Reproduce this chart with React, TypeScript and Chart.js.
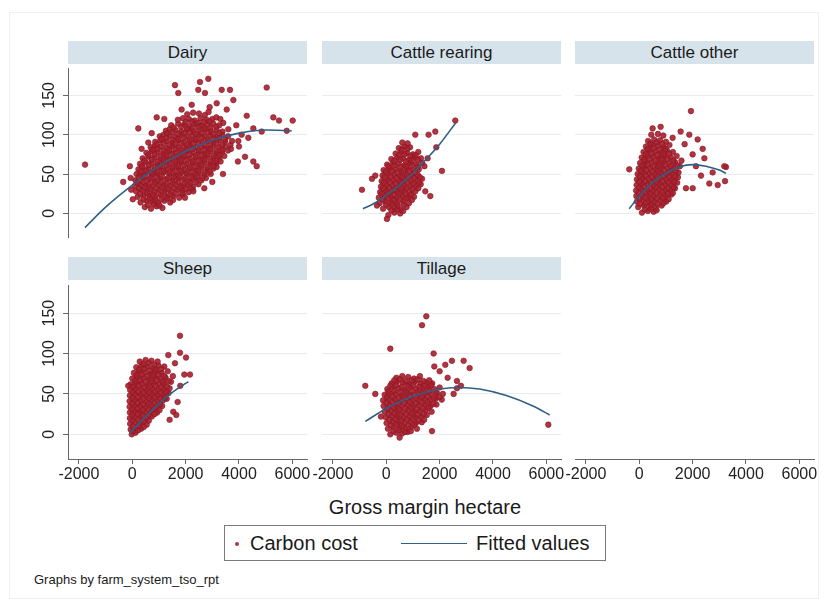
import React, { useEffect, useRef } from 'react';
import { Chart, registerables } from 'chart.js';

Chart.register(...registerables);

// ---------- data ----------
const xTicks = [-2000, 0, 2000, 4000, 6000];
const yTicks = [0, 50, 100, 150];
const xRange = [-2410, 6550];
const yRange = [-30.5, 184];

const panelTitles = ['Dairy', 'Cattle rearing', 'Cattle other', 'Sheep', 'Tillage'];
const legendLabels = ['Carbon cost', 'Fitted values'];
const xAxisTitle = 'Gross margin hectare';
const noteText = 'Graphs by farm_system_tso_rpt';

const dairyPoints: [number, number][] = [
  [470, 8], [700, 6], [910, 9], [1130, 7],
  [310, 14], [540, 16], [760, 15], [970, 13], [1200, 16], [1420, 14],
  [200, 21], [430, 23], [650, 22], [860, 20], [1090, 23], [1310, 21], [1530, 22], [1760, 20], [1900, 24],
  [140, 28], [360, 30], [570, 29], [800, 27], [1010, 30], [1230, 29], [1450, 28], [1680, 30], [1890, 29], [2110, 27], [2260, 31],
  [100, 35], [300, 37], [520, 36], [740, 34], [960, 37], [1180, 36], [1400, 35], [1610, 37], [1830, 35], [2050, 36], [2270, 34], [2480, 37],
  [120, 42], [400, 44], [620, 43], [840, 41], [1060, 44], [1280, 43], [1500, 42], [1720, 44], [1940, 43], [2160, 41], [2380, 44], [2590, 42], [2760, 45],
  [160, 50], [290, 49], [510, 51], [730, 49], [950, 50], [1170, 52], [1390, 50], [1610, 49], [1830, 51], [2050, 50], [2270, 48], [2490, 51], [2710, 49], [2940, 50],
  [230, 56], [400, 58], [620, 57], [840, 55], [1060, 58], [1280, 56], [1500, 57], [1720, 58], [1940, 56], [2160, 57], [2380, 55], [2600, 58], [2820, 56], [3040, 57], [3160, 59],
  [290, 63], [510, 65], [730, 64], [950, 62], [1170, 65], [1390, 63], [1610, 64], [1830, 65], [2050, 63], [2270, 64], [2490, 62], [2710, 65], [2930, 63], [3150, 64], [3310, 66],
  [390, 70], [620, 72], [840, 71], [1060, 69], [1280, 72], [1500, 70], [1720, 71], [1940, 72], [2160, 70], [2380, 71], [2600, 69], [2820, 72], [3040, 70], [3260, 71], [3450, 73],
  [530, 77], [730, 79], [950, 78], [1170, 76], [1390, 79], [1610, 77], [1830, 78], [2050, 79], [2270, 77], [2490, 78], [2710, 76], [2930, 79], [3150, 77], [3370, 78], [3590, 80],
  [690, 84], [840, 86], [1060, 85], [1280, 83], [1500, 86], [1720, 84], [1940, 85], [2160, 86], [2380, 84], [2600, 85], [2820, 83], [3040, 86], [3260, 84], [3480, 85], [3680, 87],
  [860, 91], [1060, 93], [1280, 92], [1500, 90], [1720, 93], [1940, 91], [2160, 92], [2380, 93], [2600, 91], [2820, 92], [3040, 90], [3260, 93], [3480, 91], [3740, 92],
  [1030, 98], [1170, 100], [1390, 99], [1610, 97], [1830, 100], [2050, 98], [2270, 99], [2490, 100], [2710, 98], [2930, 99], [3150, 97], [3370, 100], [3590, 98],
  [1260, 105], [1400, 107], [1620, 106], [1840, 104], [2060, 107], [2280, 105], [2500, 106], [2720, 107], [2940, 105], [3160, 106], [3380, 104], [3600, 107],
  [1460, 112], [1720, 114], [1940, 113], [2160, 111], [2380, 114], [2600, 112], [2820, 113], [3040, 114], [3260, 112], [3410, 115],
  [1710, 119], [1900, 121], [2120, 120], [2340, 118], [2560, 121], [2780, 119], [3000, 120], [3150, 122],
  [2060, 126], [2280, 128], [2500, 127], [2720, 125], [2860, 129],
  // dense core, in-between rows
  [580, 11], [800, 12], [1020, 10],
  [420, 18], [650, 19], [870, 17], [1090, 18], [1310, 19], [1530, 17],
  [300, 25], [540, 26], [760, 24], [980, 25], [1200, 26], [1420, 24], [1640, 25], [1860, 26],
  [250, 32], [470, 33], [690, 31], [910, 32], [1130, 33], [1350, 31], [1570, 32], [1790, 33], [2010, 31], [2200, 32],
  [200, 39], [410, 40], [630, 38], [850, 39], [1070, 40], [1290, 38], [1510, 39], [1730, 40], [1950, 38], [2170, 39], [2390, 40],
  [240, 46], [450, 47], [670, 45], [890, 46], [1110, 47], [1330, 45], [1550, 46], [1770, 47], [1990, 45], [2210, 46], [2430, 47], [2620, 45],
  [300, 53], [510, 54], [730, 52], [950, 53], [1170, 54], [1390, 52], [1610, 53], [1830, 54], [2050, 52], [2270, 53], [2490, 54], [2710, 52], [2900, 53],
  [360, 60], [620, 61], [840, 59], [1060, 60], [1280, 61], [1500, 59], [1720, 60], [1940, 61], [2160, 59], [2380, 60], [2600, 61], [2820, 59], [3040, 60],
  [450, 67], [730, 68], [950, 66], [1170, 67], [1390, 68], [1610, 66], [1830, 67], [2050, 68], [2270, 66], [2490, 67], [2710, 68], [2930, 66], [3150, 67],
  [600, 74], [840, 75], [1060, 73], [1280, 74], [1500, 75], [1720, 73], [1940, 74], [2160, 75], [2380, 73], [2600, 74], [2820, 75], [3040, 73], [3260, 74],
  [760, 81], [950, 82], [1170, 80], [1390, 81], [1610, 82], [1830, 80], [2050, 81], [2270, 82], [2490, 80], [2710, 81], [2930, 82], [3150, 80], [3370, 81],
  [920, 88], [1170, 89], [1390, 87], [1610, 88], [1830, 89], [2050, 87], [2270, 88], [2490, 89], [2710, 87], [2930, 88], [3150, 89], [3370, 87],
  [1100, 95], [1280, 96], [1500, 94], [1720, 95], [1940, 96], [2160, 94], [2380, 95], [2600, 96], [2820, 94], [3040, 95], [3260, 96], [3480, 94],
  [1300, 102], [1500, 103], [1720, 101], [1940, 102], [2160, 103], [2380, 101], [2600, 102], [2820, 103], [3040, 101], [3260, 102],
  [1550, 109], [1830, 110], [2050, 108], [2270, 109], [2490, 110], [2710, 108], [2930, 109], [3150, 110],
  [2000, 116], [2230, 117], [2450, 115], [2670, 116], [2890, 117],
  // scattered points
  [-1770, 62], [-340, 40], [-90, 60], [-40, 30], [-60, 45], [20, 18], [225, 108], [727, 102], [1601, 163], [1725, 153],
  [2850, 171], [2475, 157], [2726, 153], [3352, 157], [3664, 157], [5040, 160], [5287, 122], [5500, 118], [6014, 118], [5790, 105],
  [4852, 104], [4665, 60], [4350, 96], [4290, 124], [4538, 66], [3790, 144], [3165, 140], [2288, 28], [1976, 20], [915, 122],
  [4226, 72], [3960, 66], [3975, 92], [4538, 108], [3540, 132], [2227, 138], [1850, 132], [2538, 167], [3300, 120], [3900, 112],
  [4100, 100], [3700, 82], [3400, 50], [3000, 40], [2700, 32], [4000, 85], [2900, 135], [600, 90], [350, 82], [1200, 120],
];
const dairyFit: [number, number][] = [
  [-1774, -18], [-1000, 8], [0, 36], [1000, 60], [2000, 79], [3000, 93], [4000, 102], [5000, 106], [5977, 105],
];

const rearingPoints: [number, number][] = [
  [80, -2], [300, 1], [520, 0],
  [-120, 6], [100, 8], [320, 7], [540, 5], [760, 8],
  [-250, 13], [-30, 15], [190, 14], [410, 12], [630, 15], [850, 13],
  [-280, 20], [-60, 22], [160, 21], [380, 19], [600, 22], [820, 20], [1040, 21],
  [-230, 27], [-10, 29], [210, 28], [430, 26], [650, 29], [870, 27], [1090, 28],
  [-200, 34], [20, 36], [240, 35], [460, 33], [680, 36], [900, 34], [1120, 35], [1290, 37],
  [-170, 41], [50, 43], [270, 42], [490, 40], [710, 43], [930, 41], [1150, 42], [1340, 44],
  [-140, 48], [80, 50], [300, 49], [520, 47], [740, 50], [960, 48], [1180, 49],
  [-100, 55], [120, 57], [340, 56], [560, 54], [780, 57], [1000, 55], [1220, 56],
  [30, 62], [250, 64], [470, 63], [690, 61], [910, 64], [1130, 62], [1350, 64],
  [190, 69], [410, 71], [630, 70], [850, 68], [1070, 71], [1300, 70],
  [350, 76], [560, 78], [780, 77], [1000, 75], [1200, 78],
  [470, 83], [680, 85], [890, 84], [600, 90], [800, 89],
  [190, 4], [410, 5], [630, 3],
  [-10, 11], [210, 12], [430, 10], [650, 11],
  [-140, 18], [80, 19], [300, 17], [520, 18], [740, 19], [960, 17],
  [-170, 25], [50, 26], [270, 24], [490, 25], [710, 26], [930, 24],
  [-120, 32], [100, 33], [320, 31], [540, 32], [760, 33], [980, 31], [1200, 32],
  [-90, 39], [130, 40], [350, 38], [570, 39], [790, 40], [1010, 38], [1230, 39],
  [-60, 46], [160, 47], [380, 45], [600, 46], [820, 47], [1040, 45], [1260, 46],
  [-20, 53], [200, 54], [420, 52], [640, 53], [860, 54], [1080, 52],
  [80, 60], [300, 61], [520, 59], [740, 60], [960, 61], [1180, 59],
  [300, 67], [520, 68], [740, 66], [960, 67], [1180, 68],
  [460, 74], [680, 75], [900, 73], [1100, 74],
  [580, 81], [790, 82],
  [-911, 30], [-536, 44], [-412, 48], [1087, 100], [1586, 100], [1837, 104], [1875, 84], [2087, 54], [1462, 28], [1650, 22],
  [2587, 118], [25, -7], [1430, 60], [1550, 70], [-350, 10],
];
const rearingFit: [number, number][] = [
  [-874, 6], [-500, 12], [0, 23], [500, 36], [1000, 51], [1500, 69], [2000, 88], [2600, 115],
];

const otherPoints: [number, number][] = [
  [100, 1], [320, 3], [540, 2],
  [-40, 8], [180, 10], [400, 9], [620, 7], [840, 10],
  [-90, 15], [130, 17], [350, 16], [570, 14], [790, 17], [1010, 15],
  [-110, 22], [110, 24], [330, 23], [550, 21], [770, 24], [990, 22], [1200, 24],
  [-120, 29], [80, 31], [300, 30], [520, 28], [740, 31], [960, 29], [1180, 30], [1340, 32],
  [-100, 36], [100, 38], [320, 37], [540, 35], [760, 38], [980, 36], [1200, 37], [1420, 39],
  [-90, 43], [130, 45], [350, 44], [570, 42], [790, 45], [1010, 43], [1230, 44], [1450, 46],
  [-60, 50], [150, 52], [370, 51], [590, 49], [810, 52], [1030, 50], [1250, 51], [1470, 52],
  [-20, 57], [190, 59], [410, 58], [630, 56], [850, 59], [1070, 57], [1290, 58], [1520, 60],
  [30, 64], [240, 66], [460, 65], [680, 63], [900, 66], [1120, 64], [1340, 65], [1580, 67],
  [90, 71], [300, 73], [520, 72], [740, 70], [960, 73], [1180, 71], [1400, 73],
  [160, 78], [380, 80], [600, 79], [820, 77], [1040, 80], [1260, 78],
  [250, 85], [470, 87], [690, 86], [910, 84], [1130, 87],
  [330, 92], [560, 94], [780, 93], [1000, 91],
  [450, 100], [700, 101], [900, 99],
  [210, 5], [430, 6], [650, 4],
  [20, 12], [240, 13], [460, 11], [680, 12], [900, 13],
  [0, 19], [220, 20], [440, 18], [660, 19], [880, 20], [1100, 18],
  [-20, 26], [200, 27], [420, 25], [640, 26], [860, 27], [1080, 25], [1260, 26],
  [-10, 33], [190, 34], [410, 32], [630, 33], [850, 34], [1070, 32], [1290, 33],
  [0, 40], [210, 41], [430, 39], [650, 40], [870, 41], [1090, 39], [1310, 40],
  [20, 47], [240, 48], [460, 46], [680, 47], [900, 48], [1120, 46], [1340, 47],
  [50, 54], [260, 55], [480, 53], [700, 54], [920, 55], [1140, 53], [1370, 54],
  [110, 61], [300, 62], [520, 60], [740, 61], [960, 62], [1180, 60], [1420, 61],
  [180, 68], [400, 69], [620, 67], [840, 68], [1060, 69], [1280, 67],
  [240, 75], [460, 76], [680, 74], [900, 75], [1120, 76],
  [320, 82], [540, 83], [760, 81], [980, 82],
  [420, 89], [650, 90], [870, 88],
  [1937, 130], [2377, 82], [2440, 70], [3250, 59], [3214, 41], [2940, 36], [2625, 38], [2313, 48], [2002, 32], [1750, 32],
  [-375, 56], [2188, 94], [1875, 100], [2126, 60], [2000, 75], [1700, 88], [1550, 104], [500, 108], [800, 110], [1250, 96],
  [3187, 60], [2750, 52],
];
const otherFit: [number, number][] = [
  [-375, 6], [0, 22], [500, 39], [1000, 51], [1500, 59], [2000, 62], [2500, 60], [3000, 55], [3250, 51],
];

const sheepPoints: [number, number][] = [
  [-20, 0], [120, 2],
  [-60, 6], [150, 8], [330, 7],
  [-80, 13], [120, 15], [330, 14], [540, 12],
  [-90, 20], [100, 22], [310, 21], [520, 19], [730, 22],
  [-90, 27], [90, 29], [300, 28], [510, 26], [720, 29], [930, 27],
  [-100, 34], [80, 36], [290, 35], [500, 33], [710, 36], [920, 34], [1120, 35],
  [-100, 41], [100, 43], [310, 42], [520, 40], [730, 43], [940, 41], [1150, 42], [1290, 44],
  [-90, 48], [110, 50], [320, 49], [530, 47], [740, 50], [950, 48], [1160, 49], [1360, 51],
  [-80, 55], [120, 57], [330, 56], [540, 54], [750, 57], [960, 55], [1170, 56], [1400, 57],
  [-60, 62], [140, 64], [350, 63], [560, 61], [770, 64], [980, 62], [1190, 63], [1450, 65],
  [0, 69], [200, 71], [410, 70], [620, 68], [830, 71], [1040, 69], [1250, 70], [1520, 72],
  [60, 76], [260, 78], [470, 77], [680, 75], [890, 78], [1100, 76], [1330, 78],
  [150, 83], [350, 85], [560, 84], [770, 82], [980, 85], [1200, 84],
  [280, 90], [500, 92], [720, 91], [950, 90],
  [30, 4], [220, 5],
  [20, 10], [240, 11], [430, 9],
  [10, 17], [220, 18], [430, 16], [620, 17],
  [0, 24], [200, 25], [410, 23], [620, 24], [830, 25],
  [0, 31], [190, 32], [400, 30], [610, 31], [820, 32], [1020, 30],
  [0, 38], [200, 39], [410, 37], [620, 38], [830, 39], [1040, 37],
  [0, 45], [210, 46], [420, 44], [630, 45], [840, 46], [1050, 44], [1220, 45],
  [10, 52], [220, 53], [430, 51], [640, 52], [850, 53], [1060, 51], [1270, 52],
  [30, 59], [240, 60], [450, 58], [660, 59], [870, 60], [1080, 58], [1300, 59],
  [100, 66], [300, 67], [510, 65], [720, 66], [930, 67], [1140, 65], [1360, 66],
  [160, 73], [360, 74], [570, 72], [780, 73], [990, 74], [1200, 72],
  [250, 80], [460, 81], [670, 79], [880, 80], [1090, 81],
  [400, 87], [610, 88], [820, 86],
  [1789, 122], [1789, 101], [2014, 95], [2164, 74], [1350, 98], [1950, 74], [1600, 88], [1537, 28], [1650, 24], [1800, 60],
  [1400, 18], [-150, 60], [1700, 40],
];
const sheepFit: [number, number][] = [
  [-86, 2], [0, 5], [500, 22], [1000, 38], [1500, 52], [2000, 63], [2100, 65],
];

const tillagePoints: [number, number][] = [
  [150, 0], [370, 2], [590, 1], [800, 3],
  [60, 7], [280, 9], [500, 8], [720, 6], [940, 9], [1150, 7],
  [10, 14], [230, 16], [450, 15], [670, 13], [890, 16], [1110, 14], [1330, 15],
  [-20, 21], [200, 23], [420, 22], [640, 20], [860, 23], [1080, 21], [1300, 22], [1520, 24],
  [-60, 28], [160, 30], [380, 29], [600, 27], [820, 30], [1040, 28], [1260, 29], [1480, 30], [1700, 28],
  [-100, 35], [120, 37], [340, 36], [560, 34], [780, 37], [1000, 35], [1220, 36], [1440, 37], [1660, 35], [1880, 37],
  [-120, 42], [90, 44], [310, 43], [530, 41], [750, 44], [970, 42], [1190, 43], [1410, 44], [1630, 42], [1850, 44], [2080, 43],
  [-60, 49], [130, 51], [350, 50], [570, 48], [790, 51], [1010, 49], [1230, 50], [1450, 51], [1670, 49], [1900, 51], [2120, 50],
  [40, 56], [250, 58], [470, 57], [690, 55], [910, 58], [1130, 56], [1350, 57], [1570, 58], [1800, 56], [2000, 58],
  [200, 63], [400, 65], [620, 64], [840, 62], [1060, 65], [1280, 63], [1500, 64], [1720, 63],
  [380, 70], [600, 72], [820, 71], [1040, 69], [1260, 72],
  [260, 4], [480, 5], [700, 3], [920, 4],
  [170, 11], [390, 12], [610, 10], [830, 11], [1050, 12],
  [120, 18], [340, 19], [560, 17], [780, 18], [1000, 19], [1220, 17], [1420, 18],
  [90, 25], [310, 26], [530, 24], [750, 25], [970, 26], [1190, 24], [1400, 25],
  [50, 32], [270, 33], [490, 31], [710, 32], [930, 33], [1150, 31], [1370, 32], [1590, 33],
  [10, 39], [230, 40], [450, 38], [670, 39], [890, 40], [1110, 38], [1330, 39], [1550, 40], [1770, 38],
  [20, 46], [240, 47], [460, 45], [680, 46], [900, 47], [1120, 45], [1340, 46], [1560, 47], [1780, 45], [1990, 46],
  [80, 53], [300, 54], [520, 52], [740, 53], [960, 54], [1180, 52], [1400, 53], [1620, 54], [1850, 52],
  [150, 60], [360, 61], [580, 59], [800, 60], [1020, 61], [1240, 59], [1460, 60], [1680, 61],
  [300, 67], [510, 68], [730, 66], [950, 67], [1170, 68], [1390, 66], [1610, 67],
  [1500, 146], [1340, 135], [150, 106], [1775, 100], [2460, 91], [2900, 91], [3124, 82], [2212, 86], [-787, 60], [-412, 50],
  [6074, 12], [1712, 4], [2650, 66], [2650, 57], [2524, 50], [1800, 84], [2000, 78], [2300, 70], [2800, 60], [-200, 22],
  [500, -4],
];
const tillageFit: [number, number][] = [
  [-787, 16], [0, 32], [1000, 47], [2000, 56], [2700, 58], [3500, 56], [4500, 48], [5500, 35], [6124, 24],
];

// ---------- style ----------
const FONT = '"Liberation Sans", Arial, Helvetica, sans-serif';
const MARKER_FILL = 'rgba(168, 30, 44, 0.9)';
const MARKER_EDGE = '#861823';
const FIT_COLOR = '#2f5f86';
const AXIS_COLOR = '#666666';
const GRID_COLOR = '#e6ecf0';
const STRIP_COLOR = '#d7e3eb';

const COL_LEFT = [68, 322, 575];
const PLOT_W = 239;
const ROW_TOP = [64, 281];
const PLOT_H = 178;
const Y_AXIS_W = 50;
const X_AXIS_H = 30;
const SIDE_PAD = 25;

Chart.defaults.font.family = FONT;

type PanelProps = {
  points: [number, number][];
  fit: [number, number][];
  col: number;
  row: number;
  showX: boolean;
  showY: boolean;
  axisOnly?: boolean;
};

function Panel({ points, fit, col, row, showX, showY, axisOnly }: PanelProps) {
  const ref = useRef<HTMLCanvasElement>(null);
  const leftSpace = showY ? Y_AXIS_W : SIDE_PAD;
  const left = COL_LEFT[col] - leftSpace;
  const width = leftSpace + PLOT_W + SIDE_PAD;
  const plotH = axisOnly ? 10 : PLOT_H;
  const top = axisOnly ? ROW_TOP[row] + PLOT_H - 10 : ROW_TOP[row];
  const height = plotH + (showX ? X_AXIS_H : 0);

  useEffect(() => {
    const canvas = ref.current;
    if (!canvas) return;
    const chart = new Chart(canvas, {
      type: 'scatter',
      data: {
        datasets: [
          {
            data: fit.map(([x, y]) => ({ x, y })),
            showLine: true,
            borderColor: FIT_COLOR,
            borderWidth: 1.6,
            pointRadius: 0,
            cubicInterpolationMode: 'monotone',
            fill: false,
            order: 0,
          } as any,
          {
            data: points.map(([x, y]) => ({ x, y })),
            pointRadius: 2.8,
            pointBackgroundColor: MARKER_FILL,
            pointBorderColor: MARKER_EDGE,
            pointBorderWidth: 0.6,
            backgroundColor: MARKER_FILL,
            borderColor: MARKER_EDGE,
            order: 1,
          } as any,
        ],
      },
      options: {
        responsive: false,
        animation: false,
        devicePixelRatio: 1,
        events: [],
        layout: {
          padding: { left: showY ? 0 : SIDE_PAD, right: SIDE_PAD, top: 0, bottom: 0 },
        },
        plugins: { legend: { display: false }, tooltip: { enabled: false }, title: { display: false } },
        scales: {
          x: {
            type: 'linear',
            min: xRange[0],
            max: xRange[1],
            display: showX,
            grid: {
              drawOnChartArea: false,
              drawTicks: true,
              tickLength: 5,
              tickColor: AXIS_COLOR,
              tickWidth: 1,
            },
            border: { display: true, color: AXIS_COLOR, width: 1 },
            ticks: {
              autoSkip: false,
              minRotation: 0,
              maxRotation: 0,
              padding: 1,
              color: '#222',
              font: { size: 16, family: FONT },
              callback: (v: any) => String(v),
            },
            afterBuildTicks: (s: any) => {
              s.ticks = xTicks.map((v) => ({ value: v }));
            },
            afterFit: (s: any) => {
              s.height = showX ? X_AXIS_H : 0;
              s.paddingLeft = 0;
              s.paddingRight = 0;
              s.paddingTop = 0;
              s.paddingBottom = 0;
            },
          },
          y: {
            type: 'linear',
            min: yRange[0],
            max: yRange[1],
            display: !axisOnly,
            grid: {
              color: GRID_COLOR,
              lineWidth: 1,
              drawOnChartArea: true,
              drawTicks: showY,
              tickLength: 5,
              tickColor: AXIS_COLOR,
              tickWidth: 1,
            },
            border: { display: showY, color: AXIS_COLOR, width: 1 },
            ticks: {
              display: showY,
              autoSkip: false,
              minRotation: 90,
              maxRotation: 90,
              crossAlign: 'center',
              padding: 0,
              color: '#222',
              font: { size: 16, family: FONT },
              callback: (v: any) => String(v),
            },
            afterBuildTicks: (s: any) => {
              s.ticks = yTicks.map((v) => ({ value: v }));
            },
            afterFit: (s: any) => {
              s.width = showY ? Y_AXIS_W : 0;
              s.paddingLeft = 0;
              s.paddingRight = 0;
              s.paddingTop = 0;
              s.paddingBottom = 0;
            },
          },
        },
      } as any,
    });
    return () => chart.destroy();
  }, []);

  return (
    <canvas
      ref={ref}
      width={width}
      height={height}
      style={{ position: 'absolute', left, top, width, height }}
    />
  );
}

function Strip({ title, col, row }: { title: string; col: number; row: number }) {
  const top = row === 0 ? 41 : 257;
  return (
    <div
      style={{
        position: 'absolute',
        left: COL_LEFT[col],
        top,
        width: PLOT_W,
        height: 23,
        background: STRIP_COLOR,
        color: '#1a1a1a',
        fontFamily: FONT,
        fontSize: 17,
        lineHeight: '23px',
        textAlign: 'center',
      }}
    >
      {title}
    </div>
  );
}

export default function App() {
  return (
    <div
      style={{
        position: 'absolute',
        left: 0,
        top: 0,
        width: 827,
        height: 606,
        background: '#ffffff',
        overflow: 'hidden',
        fontFamily: FONT,
      }}
    >
      <div
        style={{
          position: 'absolute',
          left: 9,
          top: 12,
          width: 808,
          height: 585,
          border: '1px solid #edf1f4',
        }}
      />
      <Strip title={panelTitles[0]} col={0} row={0} />
      <Strip title={panelTitles[1]} col={1} row={0} />
      <Strip title={panelTitles[2]} col={2} row={0} />
      <Strip title={panelTitles[3]} col={0} row={1} />
      <Strip title={panelTitles[4]} col={1} row={1} />

      <Panel points={dairyPoints} fit={dairyFit} col={0} row={0} showX={false} showY={true} />
      <Panel points={rearingPoints} fit={rearingFit} col={1} row={0} showX={false} showY={false} />
      <Panel points={otherPoints} fit={otherFit} col={2} row={0} showX={false} showY={false} />
      <Panel points={sheepPoints} fit={sheepFit} col={0} row={1} showX={true} showY={true} />
      <Panel points={tillagePoints} fit={tillageFit} col={1} row={1} showX={true} showY={false} />
      <Panel points={[]} fit={[]} col={2} row={1} showX={true} showY={false} axisOnly={true} />

      <div
        style={{
          position: 'absolute',
          left: 0,
          width: 850,
          top: 495,
          textAlign: 'center',
          fontSize: 20,
          lineHeight: '24px',
          color: '#1a1a1a',
        }}
      >
        {xAxisTitle}
      </div>

      <div
        style={{
          position: 'absolute',
          left: 224,
          top: 525,
          width: 382,
          height: 36,
          border: '1px solid #7a7a7a',
          boxSizing: 'border-box',
        }}
      >
        <div
          style={{
            position: 'absolute',
            left: 10,
            top: 16,
            width: 4,
            height: 4,
            borderRadius: 2,
            background: MARKER_FILL,
          }}
        />
        <div
          style={{
            position: 'absolute',
            left: 25,
            top: 5,
            fontSize: 20,
            lineHeight: '24px',
            color: '#1a1a1a',
            whiteSpace: 'nowrap',
          }}
        >
          {legendLabels[0]}
        </div>
        <div
          style={{
            position: 'absolute',
            left: 176,
            top: 17,
            width: 66,
            height: 0,
            borderTop: '1.6px solid ' + FIT_COLOR,
          }}
        />
        <div
          style={{
            position: 'absolute',
            left: 251,
            top: 5,
            fontSize: 20,
            lineHeight: '24px',
            color: '#1a1a1a',
            whiteSpace: 'nowrap',
          }}
        >
          {legendLabels[1]}
        </div>
      </div>

      <div
        style={{
          position: 'absolute',
          left: 34,
          top: 572,
          fontSize: 13,
          lineHeight: '16px',
          color: '#1a1a1a',
          whiteSpace: 'nowrap',
        }}
      >
        {noteText}
      </div>
    </div>
  );
}
